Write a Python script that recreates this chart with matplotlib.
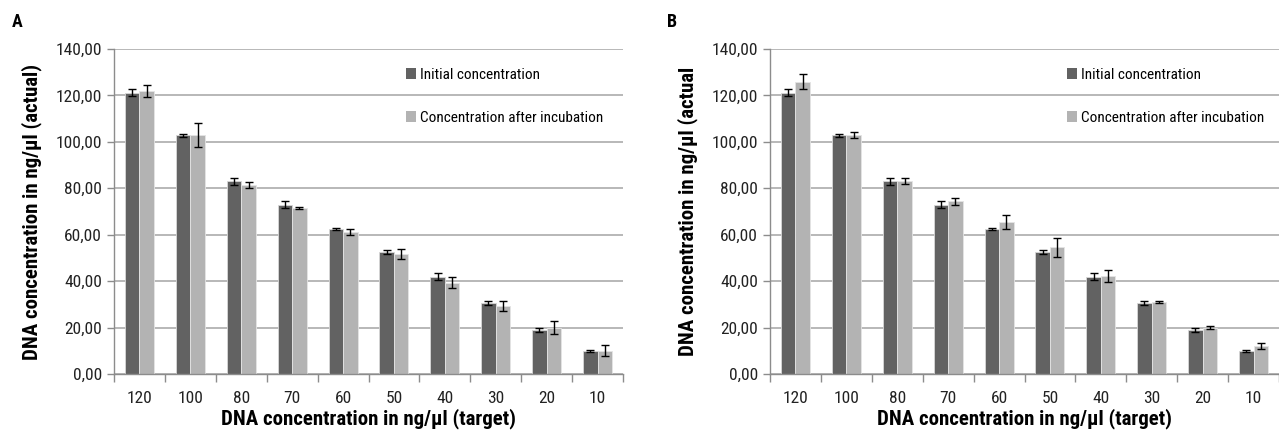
import matplotlib.pyplot as plt
import matplotlib.font_manager as fm
import numpy as np
from matplotlib.patches import Patch
from matplotlib.ticker import FuncFormatter

# pick a condensed sans with a real bold face, if one is installed
preferred = ["Liberation Sans Narrow", "Arial Narrow", "Roboto Condensed", "PT Sans Narrow",
             "Archivo Narrow", "Open Sans Condensed", "Fira Sans Condensed", "IBM Plex Sans Condensed",
             "Encode Sans Condensed", "Barlow Semi Condensed", "Asap Condensed"]
bold_ok = {}
for f in fm.fontManager.ttflist:
    if "[" in f.fname:
        continue
    w = f.weight if isinstance(f.weight, int) else (700 if f.weight == "bold" else 400)
    if w >= 700:
        bold_ok[f.name] = True
narrow = next((n for n in preferred if n in bold_ok), None)
if narrow:
    plt.rcParams['font.family'] = [narrow, 'DejaVu Sans']
    k = 1.0
else:
    plt.rcParams['font.family'] = ['Liberation Sans', 'DejaVu Sans']
    k = 0.84

# target concentrations (x categories)
targets = ["120", "100", "80", "70", "60", "50", "40", "30", "20", "10"]

# panel A
a_initial = [121.2, 102.9, 83.0, 73.0, 62.5, 52.5, 42.0, 30.5, 19.0, 10.0]
a_initial_err = [1.5, 0.7, 1.5, 1.7, 0.5, 0.8, 1.4, 0.8, 1.0, 0.4]
a_after = [122.0, 103.0, 81.5, 71.5, 61.0, 51.7, 39.3, 29.2, 20.0, 10.0]
a_after_err = [2.5, 5.3, 1.3, 0.6, 1.3, 2.0, 2.3, 2.2, 2.8, 2.3]

# panel B
b_initial = [121.2, 102.9, 83.0, 73.0, 62.5, 52.5, 42.0, 30.5, 19.0, 10.0]
b_initial_err = [1.5, 0.7, 1.5, 1.7, 0.5, 0.8, 1.4, 0.8, 1.0, 0.4]
b_after = [126.0, 103.0, 83.0, 74.5, 65.5, 54.5, 42.3, 31.0, 20.0, 12.0]
b_after_err = [3.3, 1.3, 1.3, 1.5, 3.0, 4.3, 2.5, 0.4, 0.6, 1.4]

dark = "#626262"
light = "#b3b3b3"
grid_col = "#b8b8b8"
spine_col = "#8c8c8c"

fig = plt.figure(figsize=(12.79, 4.33), dpi=100)
W, H = 1279, 433
axA = fig.add_axes([114 / W, 1 - 374 / H, (623 - 114) / W, (374 - 49) / H])
axB = fig.add_axes([770 / W, 1 - 374 / H, (623 - 114) / W, (374 - 49) / H])

panels = [
    (axA, a_initial, a_initial_err, a_after, a_after_err, "A",
     "DNA concentration in ng/µl (actual)", 12 / W, 420 / W),
    (axB, b_initial, b_initial_err, b_after, b_after_err, "B",
     "DNA concentration in ng/µl (actual", 667 / W, 1081 / W),
]

x = np.arange(len(targets))
w = 0.285

for ax, ini, ini_e, aft, aft_e, letter, ylab, lx, legx in panels:
    ax.set_axisbelow(True)
    ax.yaxis.grid(True, color=grid_col, linewidth=1.4)
    ax.bar(x - w / 2, ini, w, color=dark, edgecolor="#d8d8d8", linewidth=0.6,
           yerr=ini_e, error_kw=dict(ecolor="black", elinewidth=1, capsize=3, capthick=1))
    ax.bar(x + w / 2, aft, w, color=light, edgecolor="#e4e4e4", linewidth=0.6,
           yerr=aft_e, error_kw=dict(ecolor="black", elinewidth=1, capsize=3, capthick=1))

    ax.set_xlim(-0.5, len(targets) - 0.5)
    ax.set_ylim(0, 140)
    ax.set_yticks(np.arange(0, 141, 20))
    ax.yaxis.set_major_formatter(FuncFormatter(lambda v, p: f"{v:.2f}".replace(".", ",")))
    ax.set_xticks(x)
    ax.set_xticklabels(targets)
    ax.set_xticks(np.arange(-0.5, len(targets), 1), minor=True)
    ax.tick_params(axis="x", which="major", length=0, pad=12, labelsize=12.5 * k, labelcolor="#222222")
    ax.tick_params(axis="x", which="minor", length=6, color=spine_col, width=1)
    ax.tick_params(axis="y", length=5, color=spine_col, width=1, labelsize=12.5 * k, labelcolor="#222222")

    for s in ["top", "right"]:
        ax.spines[s].set_visible(False)
    for s in ["left", "bottom"]:
        ax.spines[s].set_color(spine_col)
        ax.spines[s].set_linewidth(1)

    ax.set_xlabel("DNA concentration in ng/µl (target)", fontsize=15 * k, fontweight="bold", labelpad=2)
    ax.set_ylabel(ylab, fontsize=15 * k, fontweight="bold", labelpad=10)

    fig.text(lx, 1 - 22 / H, letter, fontsize=13, fontweight="bold", ha="left", va="center")

    handles = [Patch(facecolor=dark, edgecolor="none"), Patch(facecolor=light, edgecolor="none")]
    leg = ax.legend(handles, ["Initial concentration", "Concentration after incubation"],
                    loc="upper left", bbox_to_anchor=(legx - 0.011, 1 - 68 / H),
                    bbox_transform=fig.transFigure, frameon=False, fontsize=11 * k,
                    handlelength=0.65, handleheight=0.7, handletextpad=0.3,
                    labelspacing=1.88, borderpad=0, borderaxespad=0)

fig.savefig("out.png", dpi=100)
